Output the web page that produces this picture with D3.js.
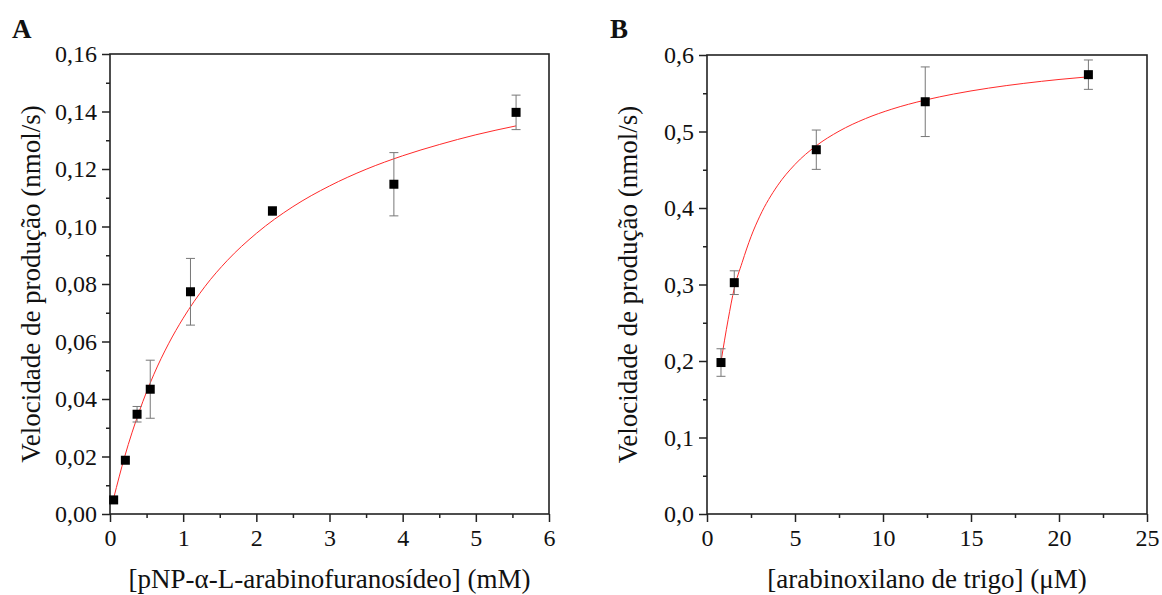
<!DOCTYPE html>
<html lang="pt">
<head>
<meta charset="utf-8">
<title>Cinética enzimática</title>
<script src="https://d3js.org/d3.v7.min.js"></script>
<style>
  body { margin: 0; background: #fff; }
  svg { display: block; font-family: "Liberation Serif", "Times New Roman", serif; }
  .axis-title { font-size: 27px; fill: #111; }
  .panel-letter { font-size: 27px; font-weight: bold; fill: #111; }
</style>
</head>
<body>
<svg id="chart" width="1162" height="595"></svg>
<script>
// ---------- panel A : pNP-alpha-L-arabinofuranoside ----------
var aConc = [0.05, 0.21, 0.37, 0.55, 1.10, 2.22, 3.88, 5.55];
var aRate = [0.0049, 0.0187, 0.0347, 0.0434, 0.0773, 0.1054, 0.1147, 0.1397];
var aErr  = [0, 0, 0.0027, 0.0101, 0.0116, 0.0015, 0.0110, 0.0060];
// fitted curve
var aFitX = [0.05, 0.2, 0.4, 0.6, 0.8, 1.0, 1.3, 1.6, 2.0, 2.5, 3.0, 3.5, 4.0, 4.5, 5.0, 5.55];
var aFitY = [0.0055, 0.0199, 0.0357, 0.0486, 0.0592, 0.0681, 0.0792, 0.0881, 0.0976, 0.1069, 0.1141, 0.1199, 0.1246, 0.1285, 0.1319, 0.1350];
var aXTicks = [0, 1, 2, 3, 4, 5, 6];
var aYTicks = [0, 0.02, 0.04, 0.06, 0.08, 0.10, 0.12, 0.14, 0.16];

// ---------- panel B : wheat arabinoxylan ----------
var bConc = [0.795, 1.55, 6.21, 12.4, 21.67];
var bRate = [0.198, 0.3024, 0.4762, 0.5389, 0.5743];
var bErr  = [0.018, 0.0155, 0.0257, 0.0455, 0.0192];
var bFitX = [0.795, 1.2, 1.55, 2.0, 2.5, 3.0, 4.0, 5.0, 6.21, 7.5, 9.0, 10.5, 12.4, 14, 16, 18, 20, 21.67];
var bFitY = [0.199, 0.254, 0.295, 0.329, 0.3625, 0.3893, 0.429, 0.457, 0.4814, 0.5004, 0.5168, 0.5292, 0.5411, 0.5489, 0.5567, 0.5629, 0.568, 0.5715];
var bXTicks = [0, 5, 10, 15, 20, 25];
var bYTicks = [0, 0.1, 0.2, 0.3, 0.4, 0.5, 0.6];

var yTitle = "Velocidade de produção (nmol/s)";
var serif = "'Liberation Serif', 'Times New Roman', serif";

var svg = d3.select("#chart");

function drawPanel(p) {
    var x = d3.scaleLinear().domain(p.xDom).range([p.left, p.right]);
    var y = d3.scaleLinear().domain(p.yDom).range([p.bottom, p.top]);
    var g = svg.append("g");

    // minor ticks
    var xAxisMinor = d3.axisBottom(x).tickValues(p.xMinor).tickSize(4).tickFormat("");
    var yAxisMinor = d3.axisLeft(y).tickValues(p.yMinor).tickSize(4).tickFormat("");
    // major ticks
    var xAxis = d3.axisBottom(x).tickValues(p.xTicks).tickSize(8).tickPadding(7).tickFormat(p.xFmt);
    var yAxis = d3.axisLeft(y).tickValues(p.yTicks).tickSize(8).tickPadding(5).tickFormat(p.yFmt);

    [xAxisMinor, xAxis].forEach(function (ax) {
        g.append("g").attr("transform", "translate(0," + p.bottom + ")").call(ax)
            .attr("font-family", serif).attr("font-size", 24);
    });
    [yAxisMinor, yAxis].forEach(function (ax) {
        g.append("g").attr("transform", "translate(" + p.left + ",0)").call(ax)
            .attr("font-family", serif).attr("font-size", 24);
    });
    g.selectAll(".domain").remove();
    g.selectAll(".tick line").attr("stroke", "#222").attr("stroke-width", 1.5);
    g.selectAll(".tick text").attr("fill", "#111");

    // frame
    g.append("rect")
        .attr("x", p.left).attr("y", p.top)
        .attr("width", p.right - p.left).attr("height", p.bottom - p.top)
        .attr("fill", "none").attr("stroke", "#222").attr("stroke-width", 1.6);

    // fitted curve
    var fit = p.fitX.map(function (d, i) { return [d, p.fitY[i]]; });
    g.append("path")
        .datum(fit)
        .attr("fill", "none")
        .attr("stroke", "#ff2a2a")
        .attr("stroke-width", 1)
        .attr("d", d3.line().x(function (d) { return x(d[0]); }).y(function (d) { return y(d[1]); }).curve(d3.curveMonotoneX));

    // error bars
    var pts = p.conc.map(function (d, i) { return { x: d, y: p.rate[i], e: p.err[i] }; });
    var eb = g.append("g").attr("stroke", "#777").attr("stroke-width", 1);
    pts.filter(function (d) { return d.e > 0; }).forEach(function (d) {
        var cx = x(d.x), y0 = y(d.y - d.e), y1 = y(d.y + d.e);
        eb.append("line").attr("x1", cx).attr("x2", cx).attr("y1", y0).attr("y2", y1);
        eb.append("line").attr("x1", cx - 4.5).attr("x2", cx + 4.5).attr("y1", y0).attr("y2", y0);
        eb.append("line").attr("x1", cx - 4.5).attr("x2", cx + 4.5).attr("y1", y1).attr("y2", y1);
    });

    // markers
    g.selectAll("rect.pt")
        .data(pts)
        .enter().append("rect")
        .attr("class", "pt")
        .attr("x", function (d) { return x(d.x) - 4.5; })
        .attr("y", function (d) { return y(d.y) - 4.5; })
        .attr("width", 9).attr("height", 9)
        .attr("fill", "#000");

    // titles
    g.append("text")
        .attr("class", "axis-title")
        .attr("x", (p.left + p.right) / 2)
        .attr("y", 588)
        .attr("text-anchor", "middle")
        .text(p.xTitle);
    g.append("text")
        .attr("class", "axis-title")
        .attr("transform", "translate(" + p.yTitleX + "," + (p.top + p.bottom) / 2 + ") rotate(-90)")
        .attr("text-anchor", "middle")
        .text(yTitle);
    g.append("text")
        .attr("class", "panel-letter")
        .attr("x", p.letterX)
        .attr("y", 38)
        .text(p.letter);
}

var comma = function (digits) {
    return function (d) { return d3.format("." + digits + "f")(d).replace(".", ","); };
};

drawPanel({
    letter: "A", letterX: 12,
    left: 110, right: 549, top: 54, bottom: 514,
    xDom: [0, 6], yDom: [0, 0.16],
    xTicks: aXTicks, yTicks: aYTicks,
    xMinor: d3.range(0.5, 6, 1), yMinor: d3.range(0.01, 0.16, 0.02),
    xFmt: d3.format("d"), yFmt: comma(2),
    conc: aConc, rate: aRate, err: aErr, fitX: aFitX, fitY: aFitY,
    xTitle: "[pNP-α-L-arabinofuranosídeo] (mM)", yTitleX: 40
});

drawPanel({
    letter: "B", letterX: 610,
    left: 707, right: 1147, top: 55, bottom: 514,
    xDom: [0, 25], yDom: [0, 0.6],
    xTicks: bXTicks, yTicks: bYTicks,
    xMinor: d3.range(2.5, 25, 5), yMinor: d3.range(0.05, 0.6, 0.1),
    xFmt: d3.format("d"), yFmt: comma(1),
    conc: bConc, rate: bRate, err: bErr, fitX: bFitX, fitY: bFitY,
    xTitle: "[arabinoxilano de trigo] (μM)", yTitleX: 637
});
</script>
</body>
</html>
